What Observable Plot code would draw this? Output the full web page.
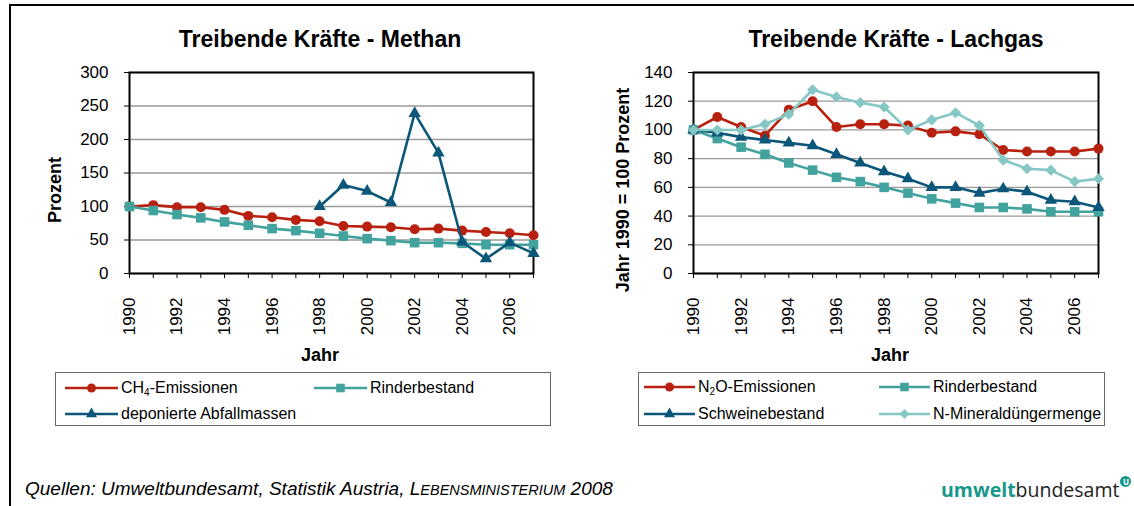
<!DOCTYPE html>
<html>
<head>
<meta charset="utf-8">
<script src="https://cdn.jsdelivr.net/npm/d3@7"></script>
<script src="https://cdn.jsdelivr.net/npm/@observablehq/plot@0.6"></script>
<style>
  html, body { margin: 0; padding: 0; background: #fff; }
  #page { position: relative; width: 1134px; height: 506px; overflow: hidden; background: #fff;
          font-family: "Liberation Sans", Arial, sans-serif; color: #000; }
  .abs { position: absolute; white-space: nowrap; }
  .title { font-weight: bold; font-size: 23px; line-height: 1; transform: translateX(-50%); }
  .axt { font-weight: bold; font-size: 18px; }
  .legend { position: absolute; border: 1px solid #666; box-sizing: border-box; background: #fff; }
  .entry { position: absolute; display: flex; align-items: center; font-size: 16px; transform: translateY(-50%); }
  .entry svg { display: block; margin-right: 3px; }
  sub { font-size: 10px; vertical-align: -3px; line-height: 0; }
</style>
</head>
<body>
<div id="page"></div>
<script>
// ---------- data ----------
const years = [1990,1991,1992,1993,1994,1995,1996,1997,1998,1999,2000,2001,2002,2003,2004,2005,2006,2007];
const yearLabels = ["1990","","1992","","1994","","1996","","1998","","2000","","2002","","2004","","2006",""];
const ch4      = [100,102,99,99,95,86,84,80,78,71,70,69,66,67,64,62,60,57];
const rinder   = [100,94,88,83,77,72,67,64,60,56,52,49,46,46,45,43,43,43];
const abfall   = [null,null,null,null,null,null,null,null,100,132,123,106,239,180,47,22,46,30];
const n2o      = [100,109,102,96,114,120,102,104,104,103,98,99,97,86,85,85,85,87];
const schweine = [100,98,95,93,91,89,83,77,71,66,60,60,56,59,57,51,50,46];
const mineral  = [100,100,100,104,111,128,123,119,116,100,107,112,103,79,73,72,64,66];
const yTicksMethan  = [0,50,100,150,200,250,300];
const yTicksLachgas = [0,20,40,60,80,100,120,140];

const C = { red: "#b8210f", teal: "#42a29e", blue: "#0b5679", light: "#84c7c5" };

const seriesMethan = [
  { name: "CH4-Emissionen", html: "CH<sub>4</sub>-Emissionen", values: ch4, color: C.red, symbol: "circle", r: 5 },
  { name: "Rinderbestand", html: "Rinderbestand", values: rinder, color: C.teal, symbol: "square", r: 5.4 },
  { name: "deponierte Abfallmassen", html: "deponierte Abfallmassen", values: abfall, color: C.blue, symbol: "triangle", r: 4.6 }
];
const seriesLachgas = [
  { name: "N2O-Emissionen", html: "N<sub>2</sub>O-Emissionen", values: n2o, color: C.red, symbol: "circle", r: 5 },
  { name: "Rinderbestand", html: "Rinderbestand", values: rinder, color: C.teal, symbol: "square", r: 5.4 },
  { name: "Schweinebestand", html: "Schweinebestand", values: schweine, color: C.blue, symbol: "triangle", r: 4.6 },
  { name: "N-Mineraldüngermenge", html: "N-Mineraldüngermenge", values: mineral, color: C.light, symbol: "diamond2", r: 5 }
];

const page = document.getElementById("page");

function table(s) {
  return years.map((y, i) => ({ year: y, value: s.values[i] })).filter(d => d.value != null);
}

function chart(series, yTicks, opts) {
  const marks = [
    Plot.gridY(yTicks, { stroke: "#9a9a9a", strokeOpacity: 1, strokeWidth: 1.3 }),
    Plot.axisY(yTicks, { tickSize: 5, tickPadding: 16, label: null, fontSize: 17 }),
    Plot.axisX(years, { tickSize: 5, tickPadding: 19, tickRotate: -90, label: null, fontSize: 17,
      tickFormat: d => yearLabels[years.indexOf(d)] }),
    Plot.frame({ stroke: "#000", strokeWidth: 2 })
  ];
  for (const s of series) {
    const t = table(s);
    marks.push(Plot.line(t, { x: "year", y: "value", stroke: s.color, strokeWidth: 2.6 }));
    marks.push(Plot.dot(t, { x: "year", y: "value", fill: s.color, stroke: null, symbol: s.symbol, r: s.r }));
  }
  const svg = Plot.plot({
    width: opts.width, height: opts.height,
    marginLeft: opts.ml, marginRight: opts.mr, marginTop: opts.mt, marginBottom: opts.mb,
    style: { fontFamily: "'Liberation Sans', Arial, sans-serif", fontSize: "17px", color: "#000", background: "transparent", overflow: "visible" },
    x: { domain: [1990, 2007] },
    y: { domain: [yTicks[0], yTicks[yTicks.length - 1]] },
    marks
  });
  svg.style.position = "absolute";
  svg.style.left = opts.left + "px";
  svg.style.top = opts.top + "px";
  page.appendChild(svg);
}

// left chart: plot area x 129–533, y 72–273
chart(seriesMethan, yTicksMethan, { left: 40, top: 60, width: 510, height: 310, ml: 89, mr: 17, mt: 12, mb: 97 });
// right chart: plot area x 693–1098, y 72–273
chart(seriesLachgas, yTicksLachgas, { left: 600, top: 60, width: 520, height: 310, ml: 93, mr: 22, mt: 12, mb: 97 });

function addDiv(html, cls, style) {
  const d = document.createElement("div");
  d.className = "abs " + (cls || "");
  d.innerHTML = html;
  Object.assign(d.style, style);
  page.appendChild(d);
  return d;
}

// frame lines of the page
addDiv("", "", { left: "9px", top: "4px", width: "1130px", height: "2px", background: "#000" });
addDiv("", "", { left: "9px", top: "4px", width: "2px", height: "510px", background: "#000" });

// titles
addDiv("Treibende Kräfte - Methan", "title", { left: "320px", top: "28px" });
addDiv("Treibende Kräfte - Lachgas", "title", { left: "896px", top: "28px" });

// axis titles
addDiv("Jahr", "axt", { left: "320px", top: "355px", transform: "translate(-50%,-50%)" });
addDiv("Jahr", "axt", { left: "890px", top: "355px", transform: "translate(-50%,-50%)" });
addDiv("Prozent", "axt", { left: "55px", top: "190px", transform: "translate(-50%,-50%) rotate(-90deg)" });
addDiv("Jahr 1990 = 100 Prozent", "axt", { left: "623px", top: "190px", transform: "translate(-50%,-50%) rotate(-90deg)" });

// legends
function swatch(s, w) {
  const svg = d3.create("svg").attr("width", w).attr("height", 14);
  svg.append("line").attr("x1", 0).attr("x2", w).attr("y1", 7).attr("y2", 7)
    .attr("stroke", s.color).attr("stroke-width", 2.6);
  const sym = { circle: d3.symbolCircle, square: d3.symbolSquare, triangle: d3.symbolTriangle, diamond2: d3.symbolDiamond2 }[s.symbol];
  svg.append("path").attr("transform", `translate(${w / 2},7)`)
    .attr("d", d3.symbol(sym, Math.PI * s.r * s.r * 0.8)()).attr("fill", s.color);
  return svg.node();
}
function legend(series, box, pos, sw) {
  const b = document.createElement("div");
  b.className = "legend";
  Object.assign(b.style, { left: box[0] + "px", top: box[1] + "px", width: box[2] + "px", height: box[3] + "px" });
  series.forEach((s, i) => {
    const e = document.createElement("div");
    e.className = "entry";
    e.style.left = pos[i][0] + "px";
    e.style.top = pos[i][1] + "px";
    e.appendChild(swatch(s, sw));
    const t = document.createElement("span");
    t.innerHTML = s.html;
    e.appendChild(t);
    b.appendChild(e);
  });
  page.appendChild(b);
}
legend(seriesMethan, [55, 372, 496, 54], [[9, 15], [258, 15], [9, 41]], 53);
legend(seriesLachgas, [638, 372, 467, 54], [[5, 14], [240, 14], [5, 41], [240, 41]], 51);

// source
addDiv('Quellen: Umweltbundesamt, Statistik Austria, L<span style="font-size:14.5px">EBENSMINISTERIUM</span> 2008', "",
  { left: "25px", top: "489px", transform: "translateY(-50%)", fontStyle: "italic", fontSize: "19px" });

// logo
addDiv('<span style="font-weight:bold;color:#17988b">umwelt</span><span style="color:#222">bundesamt</span>' +
  '<span style="display:inline-block;width:11px;height:11px;border-radius:50%;background:#17988b;color:#fff;font-size:8px;line-height:11px;text-align:center;font-weight:bold;vertical-align:12px;margin-left:1px">U</span>',
  "", { left: "941px", top: "497px", transform: "translateY(-78%)", fontFamily: "'Open Sans', sans-serif", fontSize: "19.5px" });
</script>
</body>
</html>
